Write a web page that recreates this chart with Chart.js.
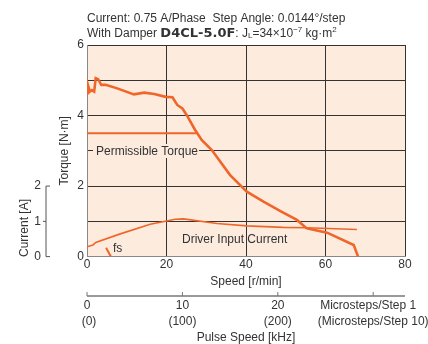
<!DOCTYPE html>
<html>
<head>
<meta charset="utf-8">
<script src="https://cdn.jsdelivr.net/npm/chart.js@4"></script>
<style>
  html, body { margin: 0; padding: 0; background: #fff; }
</style>
</head>
<body>
<canvas id="chart" width="428" height="344"></canvas>
<script>
// pull-out torque curve (speed r/min -> torque N·m)
const torqueSpeed = [0.1, 0.25, 0.7, 1.2, 1.8, 2.2, 2.8, 3.6, 4.7, 7.6, 11.8, 14.4, 16.9, 19.8, 21.5, 22.7, 24, 25.1, 27.2, 28.9, 31.4, 36, 40.2, 44.4, 49, 52.8, 55.3, 60.4, 67.1, 68.2];
const torqueValues = [4.63, 4.86, 4.68, 4.72, 4.68, 5.06, 5.03, 4.87, 4.87, 4.77, 4.6, 4.65, 4.61, 4.53, 4.52, 4.3, 4.2, 4.01, 3.59, 3.3, 3.02, 2.31, 1.84, 1.56, 1.27, 1.04, 0.80, 0.68, 0.33, 0];

// permissible torque
const permSpeed = [0, 27.5];
const permValues = [3.5, 3.5];

// driver input current (A)
const currentSpeed = [0, 1.5, 2.2, 8, 15.9, 20, 22.2, 24.3, 32.7, 40.2, 49.4, 55.3, 67.9];
const currentValues = [0.28, 0.33, 0.40, 0.63, 0.92, 1.01, 1.06, 1.07, 0.94, 0.87, 0.83, 0.82, 0.77];

// fs marker
const fsSpeed = [4.8, 6.0];
const fsValues = [0.25, 0];

// axis ticks
const speedTicks = [0, 20, 40, 60, 80];
const torqueTickLabels = [0, 2, 4, 6];
const currentTicks = [0, 1, 2];
const pulseTicks = [0, 10, 20, 30];
const pulseLabels = ['0', '10', '20', 'Microsteps/Step 1'];
const pulseLabels10 = ['(0)', '(100)', '(200)', '(Microsteps/Step 10)'];
const rpmPerKHz = 2.4; // 0.0144°/step

const ORANGE = '#f0662a';
const PLOT_BG = '#fdebde';
const TEXT = '#333';
const FONT = '"Liberation Sans Narrow", "Arial Narrow", "Liberation Sans", sans-serif';

Chart.defaults.font.family = FONT;
Chart.defaults.font.size = 12;
Chart.defaults.color = TEXT;

const pts = (xs, ys) => xs.map((x, i) => ({ x: x, y: ys[i] }));

const extras = {
  id: 'extras',
  beforeDraw(chart) {
    const { ctx, chartArea: a } = chart;
    ctx.save();
    ctx.fillStyle = PLOT_BG;
    ctx.fillRect(a.left, a.top, a.right - a.left, a.bottom - a.top);
    ctx.restore();
  },
  afterDraw(chart) {
    const { ctx, chartArea: a } = chart;
    const yA = chart.scales.yA;
    const x2 = chart.scales.x2;
    ctx.save();
    ctx.fillStyle = TEXT;
    ctx.strokeStyle = '#555';
    ctx.font = '12px ' + FONT;

    // header lines
    ctx.textAlign = 'left';
    ctx.textBaseline = 'alphabetic';
    ctx.fillText('Current: 0.75 A/Phase  Step Angle: 0.0144°/step', 87, 22);
    let x = 87;
    const part = (txt, font, dy) => {
      ctx.font = font;
      ctx.fillText(txt, x, 37 + (dy || 0));
      x += ctx.measureText(txt).width;
    };
    part('With Damper ', '12px ' + FONT);
    part('D4CL-5.0F', 'bold 13px "DejaVu Sans", sans-serif');
    part(': J', '12px ' + FONT);
    part('L', '8px ' + FONT, 1);
    part('=34×10', '12px ' + FONT);
    part('−7', '8px ' + FONT, -5);
    part(' kg·m', '12px ' + FONT);
    part('2', '8px ' + FONT, -5);

    // current axis
    ctx.font = '12px ' + FONT;
    const ax = 46;
    const yTop = yA.getPixelForValue(2), yBot = yA.getPixelForValue(0), yMid = yA.getPixelForValue(1);
    ctx.lineWidth = 1;
    ctx.beginPath();
    ctx.moveTo(ax + 4, yTop); ctx.lineTo(ax, yTop); ctx.lineTo(ax, yBot); ctx.lineTo(ax + 4, yBot);
    ctx.moveTo(ax - 3, yMid); ctx.lineTo(ax, yMid);
    ctx.stroke();
    ctx.textAlign = 'right';
    ctx.textBaseline = 'middle';
    currentTicks.forEach(v => ctx.fillText(String(v), ax - 5, yA.getPixelForValue(v)));
    ctx.save();
    ctx.translate(25, 228);
    ctx.rotate(-Math.PI / 2);
    ctx.textAlign = 'center';
    ctx.fillText('Current [A]', 0, 0);
    ctx.restore();

    // pulse speed axis
    const py = 296;
    ctx.strokeStyle = '#777';
    ctx.lineWidth = 1.5;
    ctx.beginPath();
    ctx.moveTo(a.left, py); ctx.lineTo(a.right, py);
    ctx.stroke();
    ctx.lineWidth = 1;
    ctx.beginPath();
    pulseTicks.forEach(v => {
      const px = x2.getPixelForValue(v);
      ctx.moveTo(px, py); ctx.lineTo(px, py - 4);
    });
    ctx.stroke();
    ctx.textAlign = 'center';
    pulseTicks.forEach((v, i) => {
      const px = x2.getPixelForValue(v);
      const dx = i === 3 ? -5 : 0;
      ctx.fillText(pulseLabels[i], px + dx, 306);
      ctx.fillText(pulseLabels10[i], px + (i === 0 ? 2 : 0), 322);
    });
    ctx.fillText('Pulse Speed [kHz]', (a.left + a.right) / 2, 338);

    // annotations
    ctx.fillStyle = PLOT_BG;
    ctx.fillRect(93, 144, 106, 14);
    ctx.fillStyle = TEXT;
    ctx.textAlign = 'left';
    ctx.fillText('Permissible Torque', 96, 152);
    ctx.fillText('Driver Input Current', 182, 240);
    ctx.fillText('fs', 113, 249);
    ctx.restore();
  }
};

new Chart(document.getElementById('chart'), {
  type: 'scatter',
  data: {
    datasets: [
      { label: 'Torque', data: pts(torqueSpeed, torqueValues), borderColor: ORANGE, borderWidth: 2.6 },
      { label: 'Permissible Torque', data: pts(permSpeed, permValues), borderColor: ORANGE, borderWidth: 2 },
      { label: 'Driver Input Current', data: pts(currentSpeed, currentValues), borderColor: ORANGE, borderWidth: 1.6, yAxisID: 'yA' },
      { label: 'fs', data: pts(fsSpeed, fsValues), borderColor: ORANGE, borderWidth: 2, yAxisID: 'yA' }
    ].map(d => Object.assign(d, { showLine: true, pointRadius: 0, tension: 0, fill: false }))
  },
  options: {
    responsive: false,
    devicePixelRatio: 1,
    animation: false,
    layout: { padding: { left: 57, right: 23, top: 45, bottom: 54.8 } },
    plugins: { legend: { display: false }, tooltip: { enabled: false } },
    scales: {
      x: {
        type: 'linear', min: 0, max: 80,
        afterBuildTicks: s => { s.ticks = speedTicks.map(v => ({ value: v })); },
        ticks: { padding: 1, font: { size: 12 }, color: TEXT },
        grid: { color: '#333', drawTicks: false },
        border: { color: '#888' },
        title: { display: true, text: 'Speed [r/min]', padding: 0, font: { size: 12 }, color: TEXT },
        afterFit: s => { s.height = 32.6; }
      },
      x2: {
        type: 'linear', display: false, position: 'bottom',
        min: 0, max: 80 / rpmPerKHz
      },
      y: {
        min: 0, max: 6,
        ticks: {
          stepSize: 1, padding: 3, color: TEXT,
          callback: v => torqueTickLabels.includes(v) ? String(v) : ''
        },
        grid: { color: '#333', drawTicks: false },
        border: { color: '#888' },
        title: { display: true, text: 'Torque [N·m]', padding: 0, font: { size: 12 }, color: TEXT },
        afterFit: s => { s.width = 30; }
      },
      yA: {
        type: 'linear', display: false, position: 'left',
        min: 0, max: 6
      }
    }
  },
  plugins: [extras]
});
</script>
</body>
</html>
